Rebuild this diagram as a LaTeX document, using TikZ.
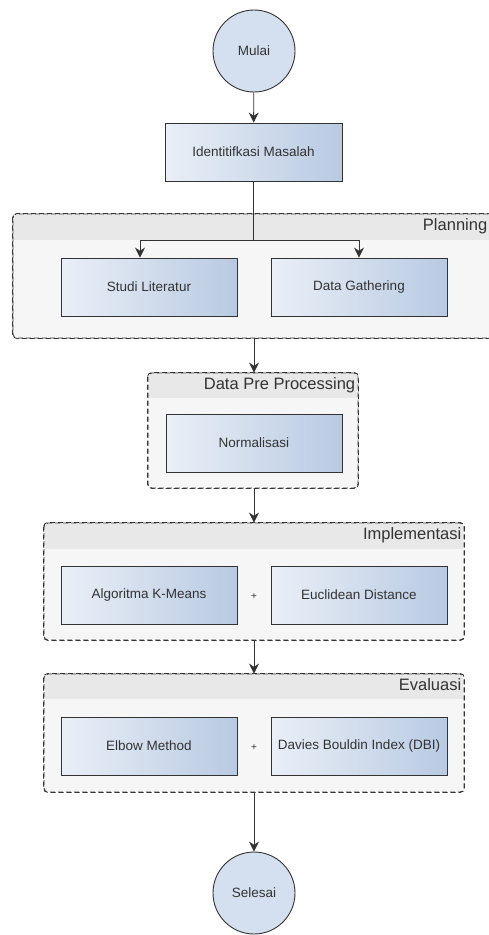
\documentclass[tikz,border=0pt]{standalone}
\usepackage{fontspec}
\setmainfont{Liberation Sans}
\usepackage{tikz}
\usetikzlibrary{positioning,arrows.meta,calc}

\definecolor{boxl}{HTML}{EAEFF7}
\definecolor{boxr}{HTML}{B8CAE2}
\definecolor{circfill}{HTML}{D4E0F0}
\definecolor{grpfill}{HTML}{F6F6F6}
\definecolor{grphead}{HTML}{E8E8E8}
\definecolor{ink}{HTML}{333333}

\tikzset{
  flow/.style={draw=ink, line width=0.9pt, -{Stealth[length=10pt,width=10pt]}},
  stepbox/.style={draw=ink, line width=0.9pt, left color=boxl, right color=boxr,
    minimum width=176pt, minimum height=58pt, font=\fontsize{13.5}{15}\selectfont, text=ink},
  endpoint/.style={circle, draw=ink, line width=0.9pt, fill=circfill, minimum size=82pt,
    inner sep=0pt, font=\fontsize{13.5}{15}\selectfont, text=ink},
  grp/.style={draw=ink, dashed, dash pattern=on 5pt off 3pt, line width=0.8pt,
    rounded corners=4pt, fill=grpfill, inner sep=0pt},
  grptitle/.style={anchor=north east, font=\fontsize{16.5}{18}\selectfont, text=ink,
    inner sep=0pt, yshift=-5pt, xshift=-3pt},
}

\begin{document}
\begin{tikzpicture}[x=1pt, y=-1pt]
    \clip (0,0) rectangle (489,935);
    \fill[white] (0,0) rectangle (489,935);

    % groups first, so the boxes sit on top
    \node[grp, minimum width=479pt, minimum height=124pt] (plan) at (252.5,276) {};
    \node[grp, minimum width=210pt, minimum height=115pt] (dpp) at (253,430.5) {};
    \node[grp, minimum width=420pt, minimum height=117pt] (impl) at (254,581.5) {};
    \node[grp, minimum width=420pt, minimum height=118pt] (eval) at (254,733) {};
    % header bands of the groups
    \foreach \g/\h in {plan/26, dpp/25, impl/26, eval/25} {
      \fill[grphead] ($(\g.north west)+(1.5,1.5)$) rectangle ($(\g.north east)+(-1.5,\h)$);
      \draw[grp, fill=none] (\g.north west) rectangle (\g.south east);
    }
    \node[grptitle, xshift=-2pt] at (plan.north east) {Planning};
    \node[grptitle] at (dpp.north east) {Data Pre Processing};
    \node[grptitle] at (impl.north east) {Implementasi};
    \node[grptitle] at (eval.north east) {Evaluasi};

    % start / end
    \node[endpoint] (mulai) at (254,51) {Mulai};
    \node[endpoint] (selesai) at (254,893) {Selesai};

    % process boxes
    \node[stepbox, minimum width=177pt] (ident) at (253.5,152) {Identitifkasi Masalah};
    \node[stepbox] (studi) at (149,287) {Studi Literatur};
    \node[stepbox] (gather) at (359,287) {Data Gathering};
    \node[stepbox] (norm) at (254,443) {Normalisasi};
    \node[stepbox] (kmeans) at (149,595) {Algoritma K-Means};
    \node[stepbox] (euclid) at (359,595) {Euclidean Distance};
    \node[stepbox] (elbow) at (149,746) {Elbow Method};
    \node[stepbox] (dbi) at (359,746) {Davies Bouldin Index (DBI)};
    \node[font=\fontsize{10}{12}\selectfont, text=ink] (plus1) at (254,597) {+};
    \node[font=\fontsize{10}{12}\selectfont, text=ink] (plus2) at (254,748) {+};

    % connectors
    \coordinate (split) at (253.5,240);
    \draw[flow] (mulai) -- (ident);
    \draw[draw=ink, line width=0.9pt] (ident.south) -- (split);
    \draw[flow] (split) -| ([xshift=-9pt]studi.north);
    \draw[flow] (split) -| (gather.north);
    \draw[flow] (plan.south -| mulai) -- (dpp.north -| mulai);
    \draw[flow] (dpp.south -| mulai) -- (impl.north -| mulai);
    \draw[flow] (impl.south) -- (eval.north);
    \draw[flow] (eval.south) -- (selesai);
  \end{tikzpicture}
\end{document}
